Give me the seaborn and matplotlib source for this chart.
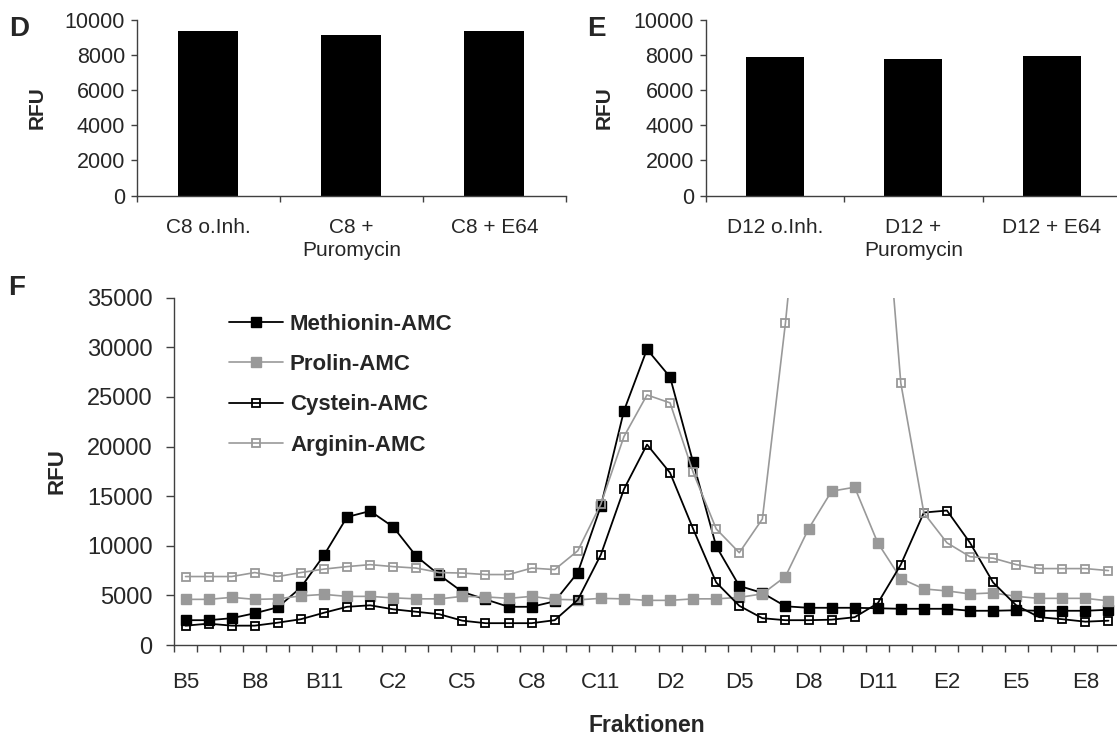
import numpy as np
import matplotlib
matplotlib.use("Agg")
import matplotlib.pyplot as plt
from matplotlib.ticker import FixedLocator
import seaborn as sns

# Panels D and E: activity of single fractions with and without inhibitors
d_labels = ["C8 o.Inh.", "C8 +\nPuromycin", "C8 + E64"]
d_values = [9350, 9150, 9350]
e_labels = ["D12 o.Inh.", "D12 +\nPuromycin", "D12 + E64"]
e_values = [7850, 7750, 7950]

# Panel F: substrate turnover across the column fractions
fractions = ([f"B{n}" for n in range(5, 13)] + [f"C{n}" for n in range(1, 13)]
             + [f"D{n}" for n in range(1, 13)] + [f"E{n}" for n in range(1, 10)])
methionin = [2500, 2500, 2700, 3200, 3800, 5800, 9050, 12900, 13500, 11900,
             8950, 7050, 5350, 4600, 3850, 3850, 4400, 7300, 14000, 23600,
             29800, 27000, 18400, 9950, 5950, 5250, 3900, 3750, 3750, 3750,
             3700, 3650, 3650, 3650, 3450, 3450, 3500, 3450, 3450, 3450, 3550]
prolin = [4600, 4600, 4800, 4600, 4650, 4950, 5100, 4900, 4900, 4750,
          4650, 4650, 4900, 4850, 4700, 4900, 4600, 4550, 4700, 4650,
          4500, 4500, 4650, 4650, 4800, 5150, 6900, 11700, 15500, 15900,
          10300, 6700, 5650, 5450, 5150, 5250, 4900, 4700, 4700, 4700, 4450]
cystein = [1950, 2150, 1950, 1950, 2250, 2600, 3250, 3850, 4000, 3600,
           3350, 3100, 2450, 2200, 2200, 2200, 2500, 4550, 9100, 15700,
           20200, 17350, 11700, 6300, 3950, 2700, 2500, 2500, 2550, 2800,
           4200, 8100, 13350, 13550, 10300, 6300, 4000, 2800, 2600, 2350, 2450]
arginin = [6900, 6900, 6900, 7300, 6900, 7300, 7650, 7900, 8100, 7900,
           7750, 7300, 7250, 7100, 7100, 7750, 7600, 9500, 14200, 21000,
           25200, 24400, 17400, 11700, 9300, 12700, 32450, 56000, 78000, 80000,
           55000, 26400, 13300, 10300, 8900, 8750, 8100, 7700, 7700, 7700, 7500]
series_names = ["Methionin-AMC", "Prolin-AMC", "Cystein-AMC", "Arginin-AMC"]

sns.set_theme(style="white")
plt.rcParams["font.family"] = ["Liberation Sans", "DejaVu Sans"]

W, H = 1117, 737
fig = plt.figure(figsize=(W / 100, H / 100), dpi=100)

SPINE = "#404040"
GRAY = "#999999"


def px_rect(left, top, right, bottom):
    return [left / W, 1 - bottom / H, (right - left) / W, (bottom - top) / H]


def base_style(ax):
    for side in ("top", "right"):
        ax.spines[side].set_visible(False)
    for side in ("left", "bottom"):
        ax.spines[side].set_color(SPINE)
        ax.spines[side].set_linewidth(1.0)


def bar_panel(ax, labels, values, ylabel_x):
    sns.barplot(x=list(range(len(labels))), y=values, color="black",
                saturation=1, width=0.42, linewidth=0, ax=ax)
    base_style(ax)
    ax.set_xlim(-0.5, len(labels) - 0.5)
    ax.set_ylim(0, 10000)
    ax.set_yticks(np.arange(0, 10001, 2000))
    ax.set_xticks(range(len(labels)))
    ax.set_xticklabels(labels, fontsize=15, linespacing=1.3)
    ax.xaxis.set_minor_locator(FixedLocator(np.arange(-0.5, len(labels), 1.0)))
    ax.tick_params(axis="x", which="major", length=0, pad=16)
    ax.tick_params(axis="x", which="minor", bottom=True, length=4.3,
                   width=1.0, color=SPINE, direction="out")
    ax.tick_params(axis="y", left=True, length=4.6, width=1.0, color=SPINE,
                   direction="out", pad=3.9, labelsize=15.5)
    ax.set_xlabel("")
    ax.set_ylabel("RFU", fontsize=15, fontweight="bold", va="center")
    ax.yaxis.set_label_coords(ylabel_x, 0.5)


ax_d = fig.add_axes(px_rect(136.8, 19.6, 565.8, 195.7))
ax_e = fig.add_axes(px_rect(705.6, 19.6, 1121.1, 195.7))
ax_f = fig.add_axes(px_rect(174.0, 297.7, 1120.0, 645.0))

bar_panel(ax_d, d_labels, d_values, -0.2315)
bar_panel(ax_e, e_labels, e_values, -0.2436)

# Fraction profile
positions = np.arange(len(fractions))
styles = [
    (methionin, "black", "black", 7.0, 1.0, 1.3),
    (prolin, GRAY, GRAY, 7.0, 1.0, 1.2),
    (cystein, "black", "none", 6.2, 1.3, 1.3),
    (arginin, GRAY, "none", 6.2, 1.3, 1.2),
]
for name, (vals, col, face, ms, mew, lw) in zip(series_names, styles):
    sns.lineplot(x=positions, y=vals, ax=ax_f, color=col, marker="s",
                 markersize=ms, markerfacecolor=face, markeredgecolor=col,
                 markeredgewidth=mew, linewidth=lw, label=name, sort=False)

base_style(ax_f)
ax_f.set_xlim(-0.5, len(fractions) - 0.5)
ax_f.set_ylim(0, 35000)
ax_f.set_yticks(np.arange(0, 35001, 5000))
ax_f.set_xticks(positions[::3])
ax_f.set_xticklabels(fractions[::3], fontsize=16)
ax_f.xaxis.set_minor_locator(FixedLocator(np.arange(-0.5, len(fractions), 1.0)))
ax_f.tick_params(axis="x", which="major", length=0, pad=19.5)
ax_f.tick_params(axis="x", which="minor", bottom=True, length=5, width=1.0,
                 color=SPINE, direction="out")
ax_f.tick_params(axis="y", left=True, length=5.5, width=1.0, color=SPINE,
                 direction="out", pad=10.0, labelsize=17)
ax_f.set_xlabel("Fraktionen", fontsize=16.5, fontweight="bold", va="center")
ax_f.xaxis.set_label_coords(0.5, -0.233)
ax_f.set_ylabel("RFU", fontsize=16, fontweight="bold", va="center")
ax_f.yaxis.set_label_coords(-0.124, 0.5)

ax_f.legend(loc="upper left", bbox_to_anchor=(0.058, 0.954), frameon=False,
            prop={"weight": "bold", "size": 16}, handlelength=2.45,
            handletextpad=0.3, labelspacing=0.87, borderaxespad=0,
            borderpad=0)

# Panel letters
for letter, x, y in (("D", 19.3, 35.7), ("E", 596.0, 35.7), ("F", 16.7, 295.0)):
    fig.text(x / W, 1 - y / H, letter, fontsize=20, fontweight="bold",
             ha="center", va="baseline")

fig.savefig("out.png", dpi=100)
